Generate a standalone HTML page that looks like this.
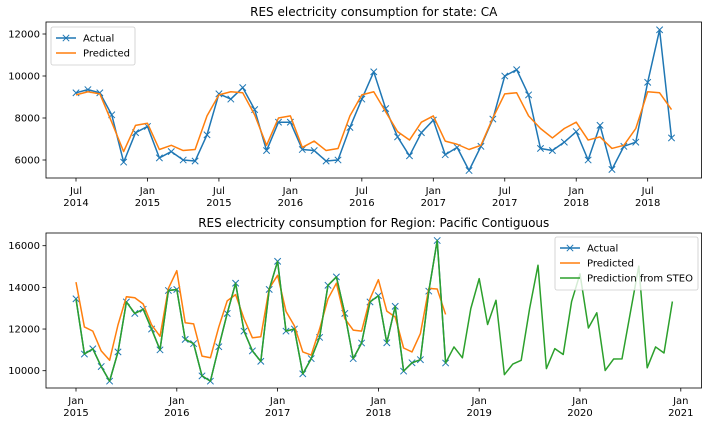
<!DOCTYPE html>
<html><head><meta charset="utf-8"><style>
body{margin:0;background:#fff;}
svg{display:block;font-family:"DejaVu Sans","Liberation Sans",sans-serif;}
</style></head><body>
<svg id="c" width="712" height="424"></svg>
<script>
const topActual=[9200,9350,9200,8150,5900,7300,
7600,6100,6400,6000,5950,7200,9150,8900,9450,8400,6450,7800,
7800,6500,6450,5950,6000,7550,8900,10200,8450,7100,6200,7300,
7900,6250,6600,5500,6650,7950,10000,10300,9100,6550,6450,6850,
7350,6000,7650,5550,6650,6850,9700,12200,7050];
const topPred=[9100,9250,9150,7800,6400,7650,
7750,6500,6700,6450,6500,8100,9100,9250,9200,8150,6700,8000,
8100,6600,6900,6450,6550,8100,9100,9250,8300,7350,6950,7800,
8100,6900,6750,6500,6700,8000,9150,9200,8100,7500,7050,7500,
7800,6950,7100,6550,6700,7500,9250,9200,8400];
const topYTicks=[6000,8000,10000,12000];
const topXTicks=[["Jul","2014",0],["Jan","2015",6],["Jul","2015",12],["Jan","2016",18],["Jul","2016",24],["Jan","2017",30],["Jul","2017",36],["Jan","2018",42],["Jul","2018",48]];
const botActual=[13450,10800,11050,10200,9500,10900,13300,12750,12950,12000,11000,13850,
13900,11500,11300,9750,9500,11150,12750,14200,11900,10950,10450,13900,
15250,11900,12000,9850,10580,11600,14100,14500,12750,10580,11330,13300,
13600,11340,13090,9980,10380,10530,13820,16250,10370];
const botPred=[14250,12100,11900,10950,10500,12200,13550,13500,13200,12200,11650,13950,
14800,12300,12250,10700,10620,12100,13350,13650,12500,11580,11630,13950,
14580,12850,12150,10900,10750,12000,13450,14200,12500,11950,11900,13450,
14370,12860,12580,11090,10900,11780,13950,13920,12700];
const steoExtra=[11140,10620,12980,
14420,12220,13380,9810,10320,10500,12980,15060,10100,11060,10780,13320,
14650,12050,12780,10010,10560,10570,12800,15020,10140,11140,10850,13320];
const botYTicks=[10000,12000,14000,16000];
const botXTicks=[["Jan","2015",0],["Jan","2016",12],["Jan","2017",24],["Jan","2018",36],["Jan","2019",48],["Jan","2020",60],["Jan","2021",72]];

const svg=document.getElementById('c');
const NS='http://www.w3.org/2000/svg';
function el(t,a,p){const e=document.createElementNS(NS,t);for(const k in a)e.setAttribute(k,a[k]);(p||svg).appendChild(e);return e;}

function panel(cfg){
  const g=el('g',{});
  
  
  const X=m=>cfg.x0+m*cfg.dx;
  const Y=v=>cfg.yRef-(v-cfg.vRef)*cfg.ky;
  // title
  const t=el('text',{x:(cfg.L+cfg.R)/2,y:cfg.T-6,'text-anchor':'middle','font-size':12,fill:'#000'},g);
  t.textContent=cfg.title;
  
  
  // y ticks
  cfg.yTicks.forEach(v=>{
    const y=Y(v);
    const l=el('line',{x1:cfg.L-3.5,x2:cfg.L,y1:y,y2:y,stroke:'#000','stroke-width':0.8},g);
    
    
    const tx=el('text',{x:cfg.L-6,y:y+3.5,'text-anchor':'end','font-size':10,fill:'#000'},g);
    tx.textContent=v;
    
    
  });
  cfg.xTicks.forEach(k=>{
    const x=X(k[2]);
    const l=el('line',{x1:x,x2:x,y1:cfg.B,y2:cfg.B+3.5,stroke:'#000','stroke-width':0.8},g);
    
    
    const a=el('text',{x:x,y:cfg.B+16,'text-anchor':'middle','font-size':10,fill:'#000'},g);
    a.textContent=k[0];
    
    
    const b=el('text',{x:x,y:cfg.B+28,'text-anchor':'middle','font-size':10,fill:'#000'},g);
    b.textContent=k[1];
    
    
  });
  cfg.series.forEach(s=>{
    const pts=s.data.map((v,i)=>X(i+s.off)+','+Y(v)).join(' ');
    const pl=el('polyline',{points:pts,fill:'none',stroke:s.color,'stroke-width':1.5,'stroke-linejoin':'round'},g);
    
    
    if(s.marker){
      s.data.forEach((v,i)=>{
        const x=X(i+s.off),y=Y(v),r=3.2;
        const p=el('path',{d:`M${x-r},${y-r}L${x+r},${y+r}M${x-r},${y+r}L${x+r},${y-r}`,stroke:s.color,'stroke-width':1},g);
        
        
      });
    }
  });
  const fr=el('rect',{x:cfg.L,y:cfg.T,width:cfg.R-cfg.L,height:cfg.B-cfg.T,fill:'none',stroke:'#000','stroke-width':0.8},g);
  
  
  // legend
  const lg=el('g',{},g);
  
  
  const lw=cfg.legW,lh=8+cfg.series.length*15;
  el('rect',{x:cfg.legX,y:cfg.legY,width:lw,height:lh,rx:2,fill:'#fff','fill-opacity':0.8,stroke:'#ccc','stroke-width':0.8},lg);
  cfg.series.forEach((s,i)=>{
    const y=cfg.legY+11+i*15;
    const e=el('g',{},lg);
    
    
    el('line',{x1:cfg.legX+5,x2:cfg.legX+25,y1:y,y2:y,stroke:s.color,'stroke-width':1.5},e);
    if(s.marker){const x=cfg.legX+15,r=3.2;el('path',{d:`M${x-r},${y-r}L${x+r},${y+r}M${x-r},${y+r}L${x+r},${y-r}`,stroke:s.color,'stroke-width':1},e);}
    const tx=el('text',{x:cfg.legX+32,y:y+3.5,'font-size':10,fill:'#000'},e);
    tx.textContent=s.label;
  });
}
panel({name:'ca-chart',title:'RES electricity consumption for state: CA',L:46,R:701.5,T:22,B:178,
 x0:76,dx:11.91,yRef:34,vRef:12000,ky:0.021,yTicks:topYTicks,xTicks:topXTicks,legX:51,legY:27,legW:84,
 series:[{name:'actual-line',label:'Actual',data:topActual,off:0,color:'#1f77b4',marker:true},
         {name:'predicted-line',label:'Predicted',data:topPred,off:0,color:'#ff7f0e'}]});
panel({name:'pacific-chart',title:'RES electricity consumption for Region: Pacific Contiguous',L:46,R:701.5,T:233,B:388,
 x0:76,dx:8.4,yRef:370.7,vRef:10000,ky:125/6000,yTicks:botYTicks,xTicks:botXTicks,legX:555,legY:237,legW:143,
 series:[{name:'actual-line',label:'Actual',data:botActual,off:0,color:'#1f77b4',marker:true},
         {name:'predicted-line',label:'Predicted',data:botPred,off:0,color:'#ff7f0e'},
         {name:'steo-line',label:'Prediction from STEO',data:botActual.concat(steoExtra),off:0,color:'#2ca02c'}]});
</script>
</body></html>
